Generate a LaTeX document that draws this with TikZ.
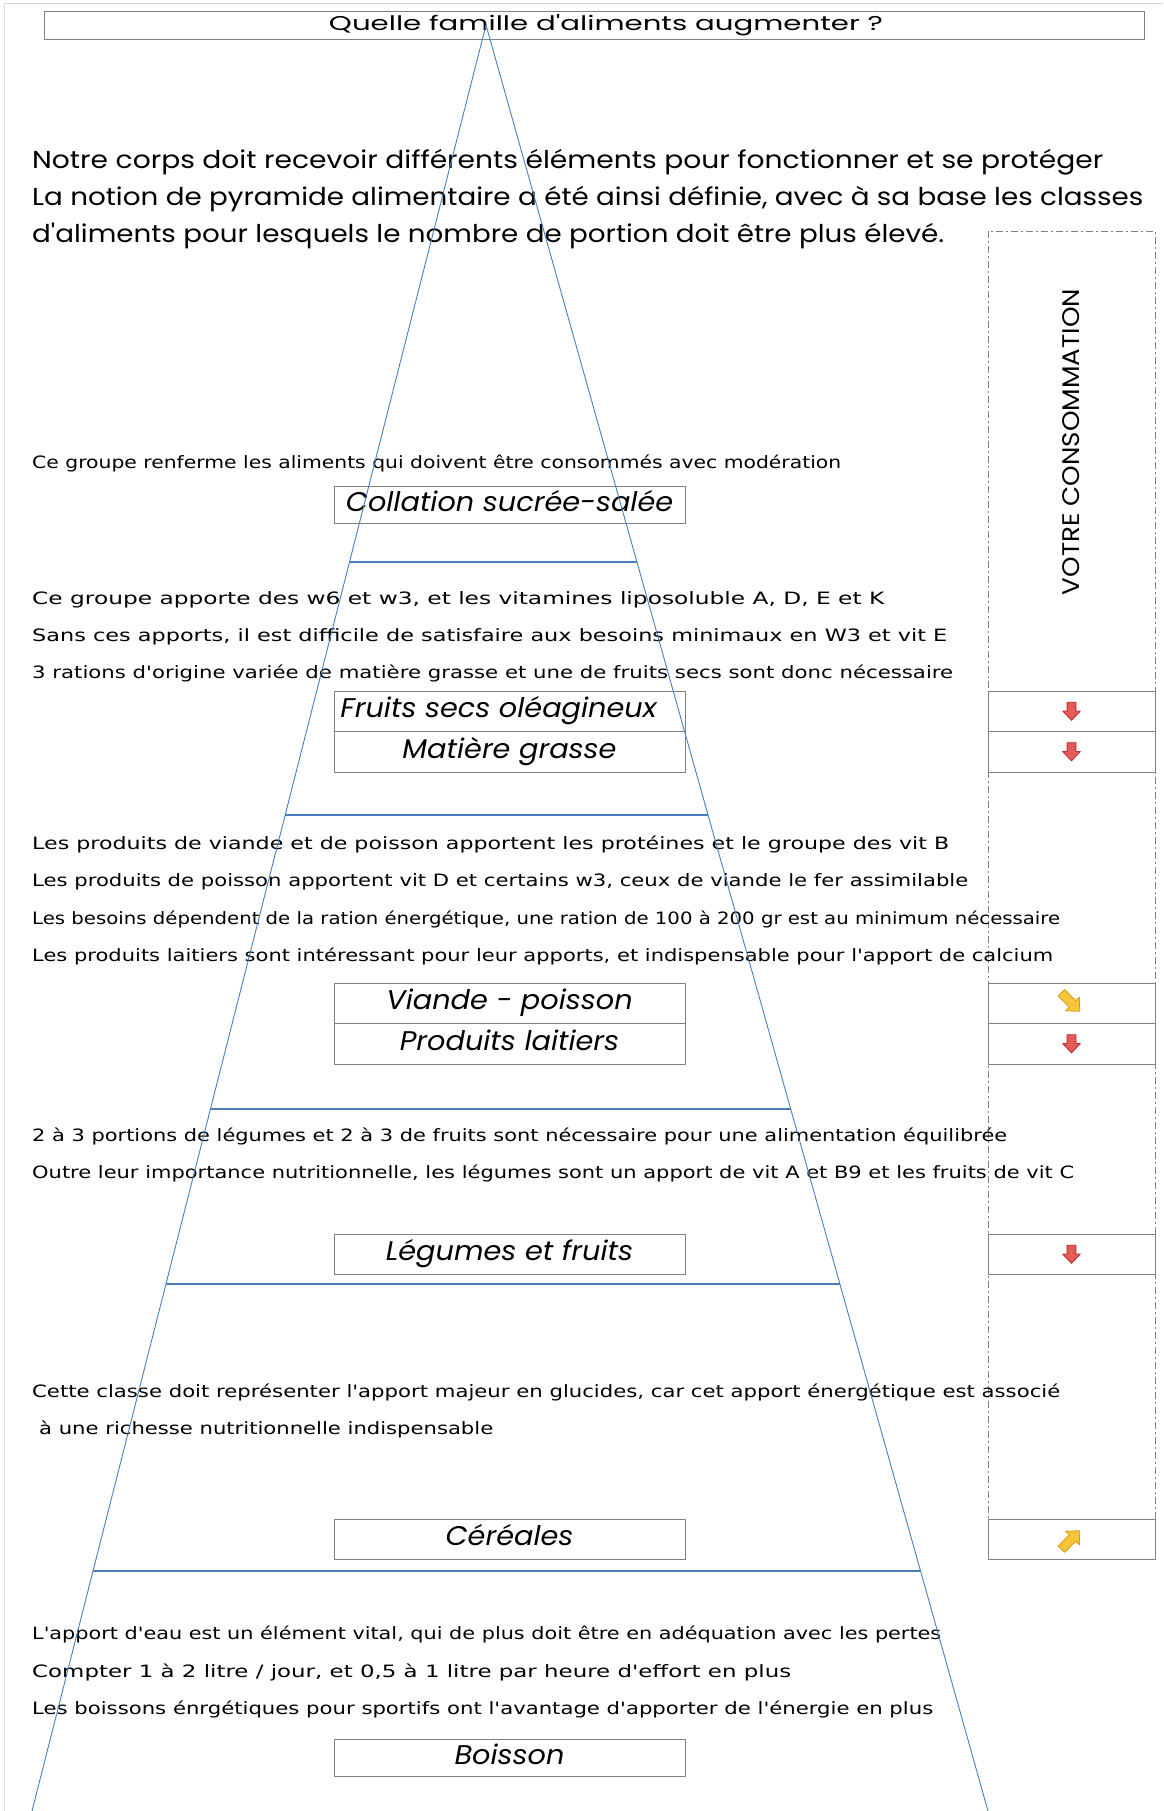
\documentclass[tikz,border=0pt]{standalone}
\usepackage{fontspec}
\usepackage{graphicx}
\usetikzlibrary{calc}
\newfontfamily\cg{Poppins}[Ligatures=TeXOff]
\newfontfamily\cms{DejaVu Sans}[Ligatures=TeXOff]
\definecolor{pyr}{HTML}{4A7EBB}
\definecolor{boxgray}{HTML}{808080}
\definecolor{redarr}{HTML}{E65A5A}
\definecolor{redline}{HTML}{B83232}
\definecolor{yelarr}{HTML}{F7C43A}
\definecolor{yelline}{HTML}{D89A10}
\newcommand{\fitw}[2]{\resizebox{#1pt}{\height}{#2}}
\newcommand{\lab}[1]{\scalebox{1.065}[1]{#1}}
\tikzset{
  small/.style={anchor=base west, inner sep=0pt, font=\cms\fontsize{17}{20}\selectfont},
  big/.style={anchor=base west, inner sep=0pt, font=\cg\fontsize{24.5}{30}\selectfont},
  foodbox/.style={draw=boxgray, line width=1pt, minimum width=351pt, inner sep=0pt,
    text height=18pt, text depth=5pt, font=\cg\itshape\fontsize{27}{30}\selectfont},
  colbox/.style={draw=boxgray, line width=1pt, minimum width=167pt, inner sep=0pt},
  pyrline/.style={draw=pyr, line width=0.9pt},
  tier/.style={draw=pyr, line width=1.6pt},
  consodash/.style={draw=boxgray, line width=0.9pt, dash pattern=on 7pt off 3pt on 2pt off 3pt},
  downarrow/.pic={
    \filldraw[line width=0.9pt, line join=round, pic actions]
      (-4,-8) -- (4,-8) -- (4,0) -- (8,0) -- (0,8.5) -- (-8,0) -- (-4,0) -- cycle;
  },
  longarrow/.pic={
    \filldraw[line width=0.8pt, line join=round, pic actions]
      (-3.5,-11) -- (3.5,-11) -- (3.5,1) -- (7.5,1) -- (0,9) -- (-7.5,1) -- (-3.5,1) -- cycle;
  },
  redarrow/.style={fill=redarr, draw=redline},
  yelarrow/.style={fill=yelarr, draw=yelline},
}
\begin{document}
\begin{tikzpicture}[x=1pt,y=-1pt]
\useasboundingbox (0,0) rectangle (1163,1811);
\fill[white] (0,0) rectangle (1163,1811);
\draw[gray!30, line width=1pt] (4,1811) -- (4,4) -- (1163,4);

% title
\node[draw=boxgray, line width=1pt, minimum width=1100pt, minimum height=28pt, inner sep=0pt,
  text height=14pt, text depth=4pt,
  font=\cg\fontsize{20}{24}\selectfont] (title) at (594,25.5) {\hspace*{24pt}\fitw{554}{Quelle famille d'aliments augmenter ?}};

% intro
\node[big] (i1) at (32,169) {\fitw{1071}{Notre corps doit recevoir différents éléments pour fonctionner et se protéger}};
\node[big] (i2) at (32,206) {\fitw{1111}{La notion de pyramide alimentaire a été ainsi définie, avec à sa base les classes}};
\node[big] (i3) at (32,243) {\fitw{912}{d'aliments pour lesquels le nombre de portion doit être plus élevé.}};

% column
\draw[consodash] (988,231) rectangle (1155,1519);
\node[rotate=90, inner sep=0pt, font=\cg\fontsize{24}{28}\selectfont] (conso) at (1071,442) {\fitw{306}{VOTRE CONSOMMATION}};

% small texts
\node[small] (t1) at (32,468) {\fitw{809}{Ce groupe renferme les aliments qui doivent être consommés avec modération}};
\node[small] (t2) at (32,604) {\fitw{852}{Ce groupe apporte des w6 et w3, et les vitamines liposoluble A, D, E et K}};
\node[small] (t3) at (32,641) {\fitw{915}{Sans ces apports, il est difficile de satisfaire aux besoins minimaux en W3 et vit E}};
\node[small] (t4) at (32,678) {\fitw{921}{3 rations d'origine variée de matière grasse et une de fruits secs sont donc nécessaire}};
\node[small] (t5) at (32,849) {\fitw{917}{Les produits de viande et de poisson apportent les protéines et le groupe des vit B}};
\node[small] (t6) at (32,886) {\fitw{936}{Les produits de poisson apportent vit D et certains w3, ceux de viande le fer assimilable}};
\node[small] (t7) at (32,924) {\fitw{1028}{Les besoins dépendent de la ration énergétique, une ration de 100 à 200 gr est au minimum nécessaire}};
\node[small] (t8) at (32,961) {\fitw{1021}{Les produits laitiers sont intéressant pour leur apports, et indispensable pour l'apport de calcium}};
\node[small] (t9) at (32,1141) {\fitw{975}{2 à 3 portions de légumes et 2 à 3 de fruits sont nécessaire pour une alimentation équilibrée}};
\node[small] (t10) at (32,1178) {\fitw{1042}{Outre leur importance nutritionnelle, les légumes sont un apport de vit A et B9 et les fruits de vit C}};
\node[small] (t11) at (32,1397) {\fitw{1028}{Cette classe doit représenter l'apport majeur en glucides, car cet apport énergétique est associé}};
\node[small] (t12) at (39,1434) {\fitw{454}{à une richesse nutritionnelle indispensable}};
\node[small] (t13) at (32,1639) {\fitw{909}{L'apport d'eau est un élément vital, qui de plus doit être en adéquation avec les pertes}};
\node[small] (t14) at (32,1677) {\fitw{759}{Compter 1 à 2 litre / jour, et 0,5 à 1 litre par heure d'effort en plus}};
\node[small] (t15) at (32,1714) {\fitw{901}{Les boissons énrgétiques pour sportifs ont l'avantage d'apporter de l'énergie en plus}};

% food boxes
\node[foodbox, minimum height=37pt] (coll) at (509.5,504.5) {\lab{Collation sucrée-salée}};
\node[foodbox, minimum height=40pt] (fruit) at (509.5,711) {\lab{Fruits secs oléagineux}\hspace*{22pt}};
\node[foodbox, minimum height=41pt] (mat) at (509.5,751.5) {\lab{Matière grasse}};
\node[foodbox, minimum height=40pt] (viande) at (509.5,1003) {\lab{Viande - poisson}};
\node[foodbox, minimum height=41pt] (lait) at (509.5,1043.5) {\lab{Produits laitiers}};
\node[foodbox, minimum height=40pt] (leg) at (509.5,1254) {\lab{Légumes et fruits}};
\node[foodbox, minimum height=40pt] (cer) at (509.5,1539) {\lab{Céréales}};
\node[foodbox, minimum height=37pt] (boi) at (509.5,1757.5) {\lab{Boisson}};

% consumption boxes
\node[colbox, minimum height=40pt] (c1) at (1071.5,711) {};
\node[colbox, minimum height=41pt] (c2) at (1071.5,751.5) {};
\node[colbox, minimum height=40pt] (c3) at (1071.5,1003) {};
\node[colbox, minimum height=41pt] (c4) at (1071.5,1043.5) {};
\node[colbox, minimum height=40pt] (c5) at (1071.5,1254) {};
\node[colbox, minimum height=40pt] (c6) at (1071.5,1539) {};

\pic[redarrow, scale=1.1] at (c1.center) {downarrow};
\pic[redarrow, scale=1.1] at (c2.center) {downarrow};
\pic[yelarrow, rotate=45, scale=1.3] at (c3.center) {longarrow};
\pic[redarrow, scale=1.1] at (c4.center) {downarrow};
\pic[redarrow, scale=1.1] at (c5.center) {downarrow};
\pic[yelarrow, rotate=135, scale=1.3] at (c6.center) {longarrow};

% pyramid
\coordinate (apex) at (486,25);
\coordinate (bl) at (32,1811);
\coordinate (br) at (988,1811);
\draw[pyrline] (bl) -- (apex) -- (br);
\foreach \yy in {562,815,1109,1284,1571}{
  \pgfmathsetmacro{\tt}{(\yy-25)/1786}
  \draw[tier] ($(apex)!\tt!(bl)$) -- ($(apex)!\tt!(br)$);
}
\end{tikzpicture}
\end{document}
